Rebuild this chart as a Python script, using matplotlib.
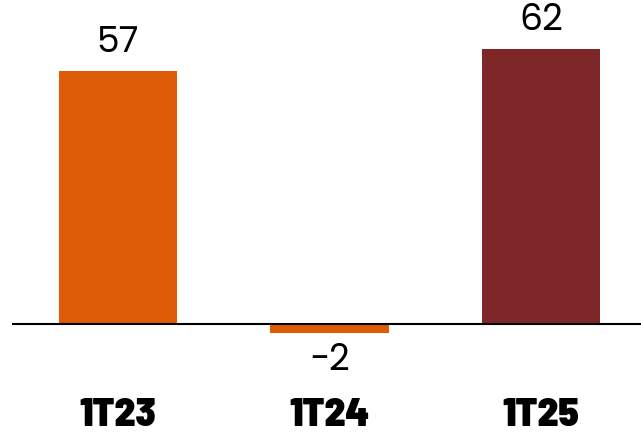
import matplotlib
matplotlib.use("Agg")
from matplotlib import pyplot as plt

periodos = ["1T23", "1T24", "1T25"]
valores = [57, -2, 62]
cores = ["#DF5C07", "#DF5C07", "#7E2729"]

fig = plt.figure(figsize=(6.41, 4.32), dpi=100)
ax = fig.add_axes([12 / 641, 0, 1 - 12 / 641, 1])

x = list(range(len(periodos)))
ax.bar(x, valores, width=0.56, color=cores, zorder=1)
ax.axhline(0, color="black", linewidth=1.5, zorder=2)

fonte_valor = ["Poppins", "Roboto", "DejaVu Sans"]
fonte_rotulo = ["Barlow Semi Condensed", "Barlow Condensed", "DejaVu Sans"]

for xi, v in zip(x, valores):
    if v >= 0:
        ax.annotate(str(v), (xi, v), xytext=(0, 7), textcoords="offset points",
                    ha="center", va="bottom", fontsize=26, family=fonte_valor)
    else:
        ax.annotate("−" + str(abs(v)), (xi, v), xytext=(0, -7), textcoords="offset points",
                    ha="center", va="top", fontsize=26, family=fonte_valor)

for xi, p in zip(x, periodos):
    ax.text(xi, -20.5, p, ha="center", va="center", fontsize=29,
            family=fonte_rotulo, fontweight=900)

ax.set_xlim(-0.501, 2.473)
ax.set_ylim(-24.3, 73)
ax.axis("off")

plt.savefig("out.png", dpi=100)
